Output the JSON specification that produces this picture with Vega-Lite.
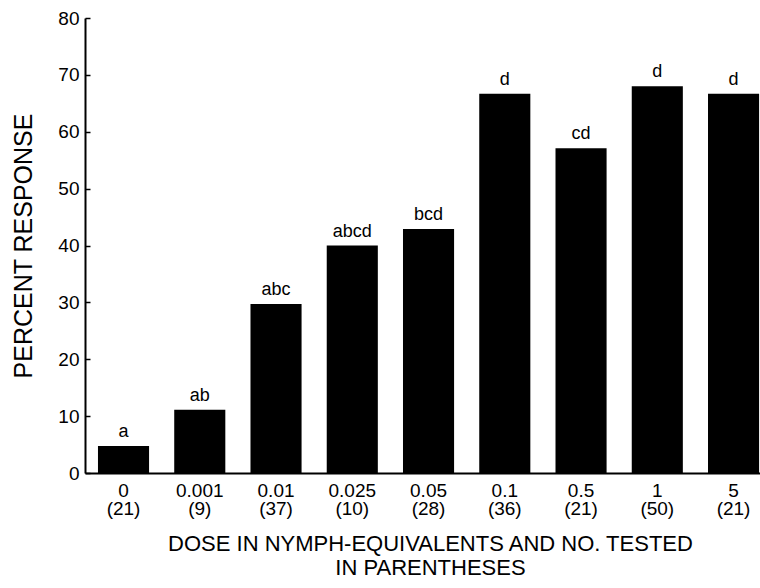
{
  "$schema": "https://vega.github.io/schema/vega-lite/v6.json",
  "width": 675,
  "height": 455,
  "autosize": {"type": "none"},
  "padding": {"left": 85, "top": 18, "right": 0, "bottom": 115},
  "background": "white",
  "config": {
    "font": "Liberation Sans",
    "view": {"stroke": null},
    "axis": {"grid": false, "domainColor": "black", "domainWidth": 2, "tickColor": "black", "tickWidth": 1.5, "labelColor": "black", "titleColor": "black", "labelFont": "Liberation Sans", "titleFont": "Liberation Sans", "titleFontWeight": "normal"}
  },
  "data": {
    "values": [
      {"dose": "0|(21)", "pct": 4.76, "grp": "a"},
      {"dose": "0.001|(9)", "pct": 11.1, "grp": "ab"},
      {"dose": "0.01|(37)", "pct": 29.7, "grp": "abc"},
      {"dose": "0.025|(10)", "pct": 40.0, "grp": "abcd"},
      {"dose": "0.05|(28)", "pct": 42.9, "grp": "bcd"},
      {"dose": "0.1|(36)", "pct": 66.7, "grp": "d"},
      {"dose": "0.5|(21)", "pct": 57.1, "grp": "cd"},
      {"dose": "1|(50)", "pct": 68.0, "grp": "d"},
      {"dose": "5|(21)", "pct": 66.7, "grp": "d"}
    ]
  },
  "encoding": {
    "x": {
      "field": "dose", "type": "nominal", "sort": null,
      "scale": {"paddingInner": 0.33, "paddingOuter": 0.091, "align": 0.935},
      "axis": {
        "title": ["DOSE IN NYMPH-EQUIVALENTS AND NO. TESTED", "IN PARENTHESES"],
        "titleFontSize": 22, "titleLineHeight": 24, "titlePadding": 15, "titleX": 345,
        "labelExpr": "split(datum.label, '|')",
        "labelAngle": 0, "labelFontSize": 19, "labelLineHeight": 18, "labelPadding": 8,
        "ticks": false, "domainWidth": 2
      }
    },
    "y": {
      "field": "pct", "type": "quantitative",
      "scale": {"domain": [0, 80], "nice": false},
      "axis": {
        "title": "PERCENT RESPONSE", "titleFontSize": 25, "titlePadding": 21,
        "values": [0, 10, 20, 30, 40, 50, 60, 70, 80],
        "tickSize": -5, "labelPadding": 11, "labelFontSize": 19
      }
    }
  },
  "layer": [
    {"mark": {"type": "bar", "color": "black"}},
    {"mark": {"type": "text", "baseline": "bottom", "dy": -5, "fontSize": 18, "color": "black"},
     "encoding": {"text": {"field": "grp"}}}
  ]
}
